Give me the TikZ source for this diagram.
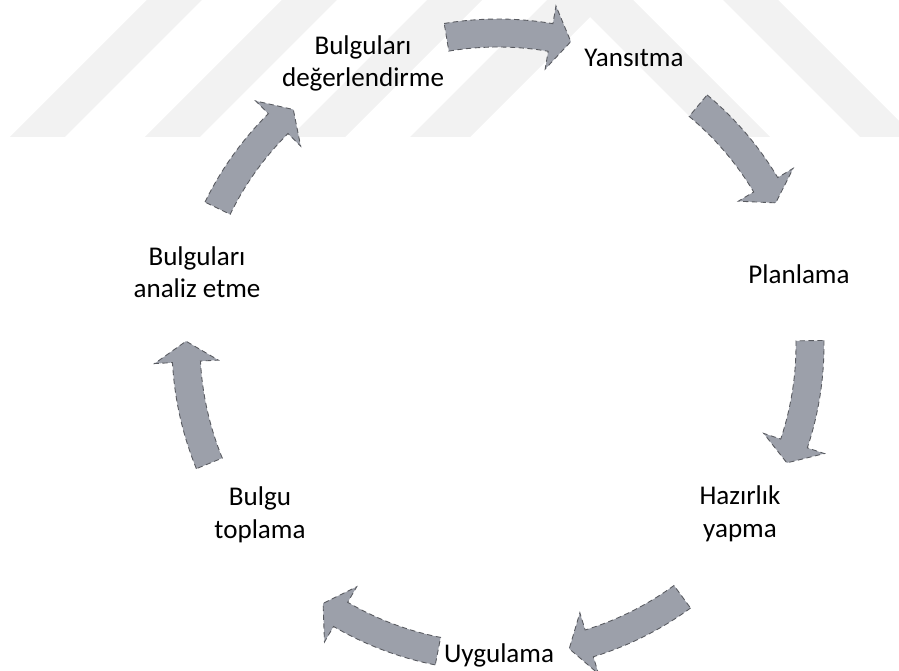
\documentclass[tikz,border=0pt]{standalone}
\usepackage{fontspec}
\setmainfont{Carlito}
\usepackage{tikz}
\usetikzlibrary{
  calc,         % Calculations $...$
}
\definecolor{arrowfill}{RGB}{156,160,170}
\definecolor{arrowedge}{RGB}{88,90,96}
\definecolor{markgray}{RGB}{242,242,242}
\def\myrin{298}
\def\myrout{326}
\def\mybin{280}
\def\mybout{344}
\def\myrmid{312}
\def\myspan{11.5}
\def\myhead{3.8}
\tikzset{
  semithick,
  cycle label/.style={
    align=center,
    anchor=base,
    inner sep=0mm,
    font=\fontsize{15.4}{18.6}\selectfont
  },
  cycle arrow/.style={
    fill=arrowfill,
    draw=arrowedge,
    densely dashed,
    line width=0.5pt
  },
  watermark/.style={
    fill=markgray,
    draw=none
  }
}
% Curved block arrow on the cycle, #1 = angle of its middle, #2 = shift of radius
\newcommand{\cycarrow}[2]{
  \pgfmathsetmacro{\myas}{#1+\myspan}
  \pgfmathsetmacro{\myah}{#1-\myspan+\myhead}
  \pgfmathsetmacro{\myat}{#1-\myspan}
  \begin{scope}[shift={($(c)+(#1:#2)-(c)$)}]
  \filldraw[cycle arrow]
    ($(c)+(\myas:\myrout)$) arc[start angle=\myas, end angle=\myah, radius=\myrout]
      -- ($(c)+(\myah:\mybout)$) -- ($(c)+(\myat:\myrmid)$) -- ($(c)+(\myah:\mybin)$)
      -- ($(c)+(\myah:\myrin)$) arc[start angle=\myah, end angle=\myas, radius=\myrin]
      -- cycle;
  \end{scope}
}

\begin{document}
\begin{tikzpicture}[x=0.02cm,y=0.02cm]
\useasboundingbox (0,0) rectangle (899,670);
\coordinate (c) at (498,325);
% faint stripes behind the top
\fill[watermark] (10,533) -- (65,533) -- (202,670) -- (147,670) -- cycle;
\fill[watermark] (145,533) -- (200,533) -- (337,670) -- (282,670) -- cycle;
\fill[watermark] (290,533) -- (345,533) -- (482,670) -- (427,670) -- cycle;
\fill[watermark] (410,533) -- (470,533) -- (590,653) -- (710,533) -- (770,533)
  -- (633,670) -- (547,670) -- cycle;
\fill[watermark] (723,670) -- (778,670) -- (899,549) -- (899,533) -- (860,533) -- cycle;
% arrows between the steps
\foreach \m/\d in {88/0,38.6/0,-10.7/0,-65.3/0,-112.6/-8,-169.2/0,-217.5/0}
  {\cycarrow{\m}{\d}}
\node[cycle label] (deg)  at (363,583) {Bulguları\\değerlendirme};
\node[cycle label] (yans) at (634,603) {Yansıtma};
\node[cycle label] (plan) at (799,386) {Planlama};
\node[cycle label] (haz)  at (740,133) {Hazırlık\\yapma};
\node[cycle label] (uyg)  at (499,8)   {Uygulama};
\node[cycle label] (bulg) at (260,132) {Bulgu\\toplama};
\node[cycle label] (ana)  at (197,372) {Bulguları\\analiz etme};
\end{tikzpicture}
\end{document}
